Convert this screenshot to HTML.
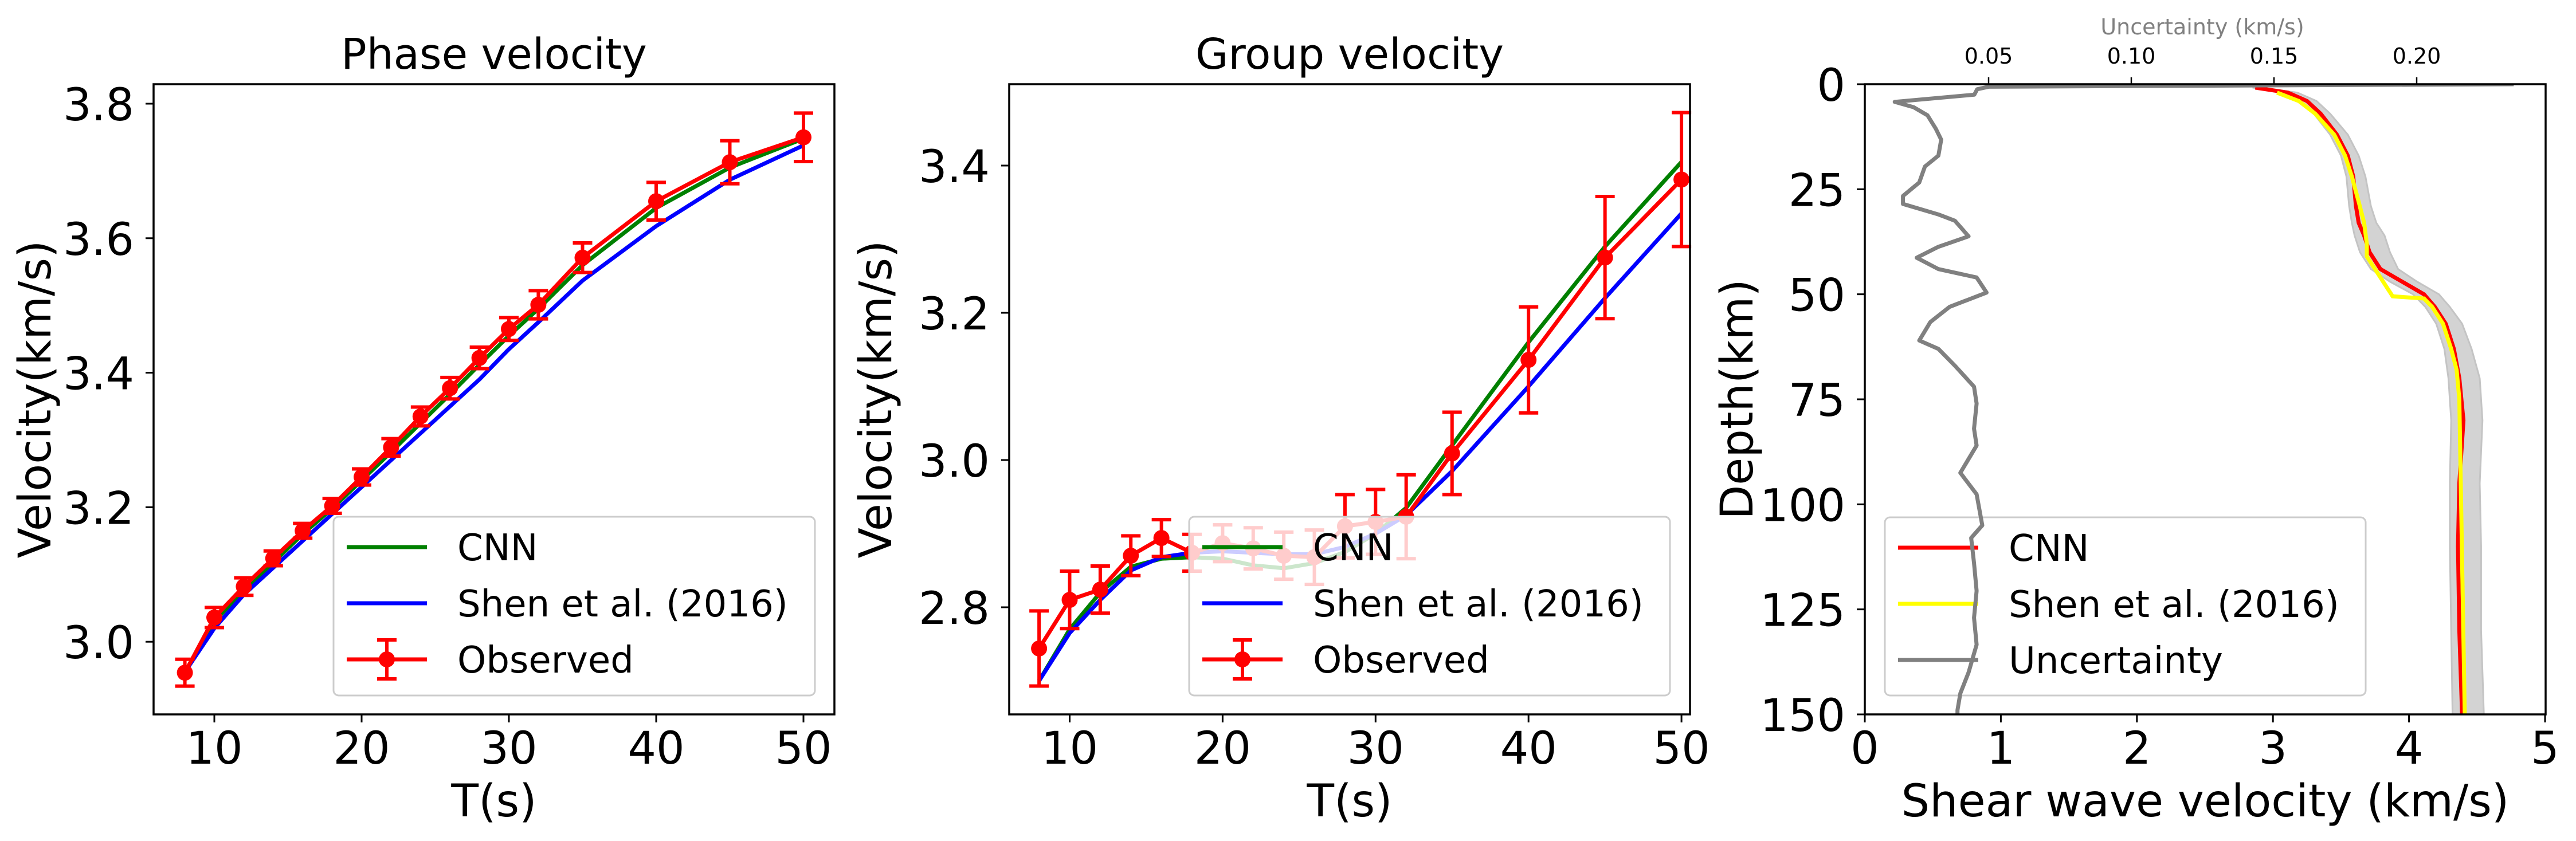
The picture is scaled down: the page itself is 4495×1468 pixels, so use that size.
<!DOCTYPE html>
<html><head><meta charset="utf-8">
<style>
html,body{margin:0;padding:0;background:#fff;}
svg{display:block;font-family:"DejaVu Sans","Liberation Sans",sans-serif;}
</style></head>
<body>
<svg id="fig" width="4495" height="1468" viewBox="0 0 4495 1468" xmlns="http://www.w3.org/2000/svg"></svg>
<script>
// ---------- data ----------
const periods = [8,10,12,14,16,18,20,22,24,26,28,30,32,35,40,45,50];
const phaseObs = [2.954,3.036,3.082,3.124,3.165,3.202,3.245,3.289,3.335,3.377,3.422,3.465,3.501,3.571,3.655,3.713,3.750];
const phaseErr = [0.020,0.015,0.013,0.011,0.011,0.011,0.012,0.013,0.014,0.016,0.016,0.017,0.021,0.022,0.028,0.032,0.036];
const phaseCnn = [2.955,3.030,3.077,3.118,3.160,3.198,3.240,3.282,3.325,3.368,3.412,3.455,3.495,3.560,3.645,3.705,3.748];
const phaseShen = [2.955,3.020,3.070,3.110,3.150,3.190,3.230,3.270,3.310,3.350,3.390,3.435,3.475,3.537,3.618,3.687,3.738];
const groupObs = [2.744,2.810,2.824,2.870,2.894,2.874,2.887,2.880,2.870,2.868,2.910,2.916,2.923,3.009,3.136,3.275,3.381];
const groupErr = [0.051,0.039,0.032,0.027,0.025,0.025,0.025,0.028,0.032,0.037,0.043,0.044,0.057,0.056,0.072,0.083,0.091];
const groupCnn = [2.700,2.770,2.820,2.855,2.866,2.868,2.866,2.857,2.853,2.860,2.875,2.900,2.935,3.020,3.160,3.290,3.405];
const groupShen = [2.700,2.765,2.810,2.850,2.868,2.874,2.876,2.874,2.872,2.872,2.882,2.900,2.925,2.985,3.100,3.220,3.335];

const cnnDepth = [0.8,2,4,7,12,17,22,29,33,36,40,44,47,50,53,57,63,70,80,95,110,130,150];
const cnnVs = [2.87,3.11,3.25,3.35,3.47,3.55,3.59,3.61,3.63,3.67,3.71,3.79,3.95,4.11,4.19,4.27,4.33,4.37,4.40,4.37,4.36,4.37,4.39];
const bandLo = [2.85,3.05,3.20,3.30,3.42,3.50,3.54,3.56,3.58,3.60,3.64,3.72,3.86,4.03,4.12,4.20,4.26,4.29,4.31,4.30,4.30,4.31,4.32];
const bandHi = [2.90,3.18,3.32,3.42,3.55,3.63,3.68,3.72,3.76,3.82,3.86,3.92,4.06,4.22,4.30,4.39,4.46,4.52,4.54,4.52,4.53,4.53,4.55];
const shenDepth = [2,4,7,12,17,22,28,33,38,41,44,48,50.5,51,53,57,63,68,75,150];
const shenVs = [3.03,3.19,3.31,3.45,3.53,3.58,3.63,3.67,3.69,3.69,3.75,3.83,3.88,4.11,4.17,4.25,4.31,4.35,4.37,4.41];
const uncDepth = [0,0.6,1.2,2.5,4.2,5.5,7.4,10.6,13.2,17,19.6,23.4,26.6,28.5,31,32.5,36.2,38.7,41.3,44,46,49.6,53,56.6,61,63,67,72,76,82,86,92.5,97.6,105,108,114,120.6,127,133.4,140,145,149,150];
const uncVal = [0.234,0.050,0.046,0.045,0.0171,0.0238,0.0286,0.0315,0.0334,0.0324,0.0277,0.0257,0.0200,0.0200,0.0324,0.0382,0.0430,0.0324,0.0248,0.0324,0.0458,0.0493,0.0363,0.0296,0.0257,0.0324,0.0382,0.0449,0.0458,0.0449,0.0458,0.0401,0.0458,0.0478,0.0439,0.0449,0.0458,0.0449,0.0458,0.0430,0.0401,0.0391,0.0391];

const p1XTicks = [10,20,30,40,50];
const p1YTicks = [3.0,3.2,3.4,3.6,3.8];
const p2XTicks = [10,20,30,40,50];
const p2YTicks = [2.8,3.0,3.2,3.4];
const p3XTicks = [0,1,2,3,4,5];
const p3YTicks = [0,25,50,75,100,125,150];
const p3TopTicks = [0.05,0.10,0.15,0.20];

// ---------- scales ----------
const TOP=147, BOT=1247;
const x1 = t => 374 + (t-10)*25.7;
const y1 = v => 181 + (3.8-v)*1174;
const x2 = t => 1866.5 + (t-10)*26.69;
const y2 = v => 289 + (3.4-v)*1285;
const x3 = v => 3254 + v*237.4;
const y3 = d => 147 + d*(1100/150);
const xu = u => 3470 + (u-0.05)*4980;

const svg = document.getElementById('fig');
const NS = 'http://www.w3.org/2000/svg';
function mk(tag, attrs, parent){
  const e = document.createElementNS(NS, tag);
  for (const k in attrs) e.setAttribute(k, attrs[k]);
  (parent||svg).appendChild(e);
  return e;
}
function pts(xs, ys, fx, fy){ return xs.map((x,i)=>fx(x).toFixed(1)+','+fy(ys[i]).toFixed(1)).join(' '); }

function clip(id, x, w){
  const d = mk('defs', {});
  const c = mk('clipPath', {id:id}, d);
  mk('rect', {x:x, y:TOP, width:w, height:BOT-TOP}, c);
}

function frame(name, x0, w){
  const r = mk('rect', {x:x0, y:TOP, width:w, height:BOT-TOP, fill:'none', stroke:'#000', 'stroke-width':3.5});
  
  
}
function text(str, x, y, size, anchor, fill){
  const t = mk('text', {x:x, y:y, 'font-size':size, 'text-anchor':anchor||'middle', fill:fill||'#000'});
  t.textContent = str;
  return t;
}
function xTicks(ticks, fx, fmt, name){
  ticks.forEach(v=>{
    const X = fx(v);
    const l = mk('line', {x1:X, y1:BOT, x2:X, y2:BOT+14, stroke:'#000', 'stroke-width':3});
    
    
    const t = text(fmt(v), X, 1333, 78);
    
    
  });
}
function yTicks(ticks, fy, x0, fmt, name){
  ticks.forEach(v=>{
    const Y = fy(v);
    const l = mk('line', {x1:x0-14, y1:Y, x2:x0, y2:Y, stroke:'#000', 'stroke-width':3});
    
    
    const t = text(fmt(v), x0-34, Y+29, 78, 'end');
    
    
  });
}
function line(xs, ys, fx, fy, color, name, cl){
  const p = mk('polyline', {points:pts(xs,ys,fx,fy), fill:'none', stroke:color, 'stroke-width':7, 'stroke-linejoin':'round', 'clip-path':'url(#'+cl+')'});
  
  
}
function observed(xs, ys, es, fx, fy, name){
  const g = mk('g', {});
  
  
  xs.forEach((t,i)=>{
    const X = fx(t), a = fy(ys[i]+es[i]), b = fy(ys[i]-es[i]);
    const e = mk('path', {d:`M${X},${a}V${b}M${X-17},${a}H${X+17}M${X-17},${b}H${X+17}`, stroke:'#f00', 'stroke-width':6, fill:'none'}, g);
    
    
  });
  const p = mk('polyline', {points:pts(xs,ys,fx,fy), fill:'none', stroke:'#f00', 'stroke-width':7, 'stroke-linejoin':'round'}, g);
  
  
  xs.forEach((t,i)=>{
    const c = mk('circle', {cx:fx(t), cy:fy(ys[i]), r:14, fill:'#f00'}, g);
    
    
  });
}
function legend(x0, y0, w, h, items, name){
  const g = mk('g', {});
  
  
  const r = mk('rect', {x:x0, y:y0, width:w, height:h, rx:9, fill:'#fff', 'fill-opacity':0.8, stroke:'#ccc', 'stroke-width':3}, g);
  
  
  items.forEach((it,i)=>{
    const Y = y0+53+i*98;
    const l = mk('line', {x1:x0+23, y1:Y, x2:x0+163, y2:Y, stroke:it.c, 'stroke-width':7}, g);
    
    
    if (it.err){
      const X = x0+93;
      const e = mk('path', {d:`M${X},${Y-34}V${Y+34}M${X-17},${Y-34}H${X+17}M${X-17},${Y+34}H${X+17}`, stroke:'#f00','stroke-width':6,fill:'none'}, g);
      
      
      const c = mk('circle', {cx:X, cy:Y, r:14, fill:'#f00'}, g);
      
      
    }
    const t = mk('text', {x:x0+216, y:Y+23, 'font-size':64}, g);
    t.textContent = it.t;
    
    
  });
}

// ---------- panel 1 ----------
clip('c1', 268, 1188);
line(periods, phaseCnn, x1, y1, '#008000', 'phase-cnn-line', 'c1');
line(periods, phaseShen, x1, y1, '#0000ff', 'phase-shen-line', 'c1');
observed(periods, phaseObs, phaseErr, x1, y1, 'phase-observed-series');
legend(582, 902, 840, 312, [{t:'CNN',c:'#008000'},{t:'Shen et al. (2016)',c:'#0000ff'},{t:'Observed',c:'#f00',err:true}], 'phase-legend');
frame('phase-axes-frame', 268, 1188);
xTicks(p1XTicks, x1, v=>String(v), 'phase-x');
yTicks(p1YTicks, y1, 268, v=>v.toFixed(1), 'phase-y');
let t;
t = text('Phase velocity', 862, 120, 74);  
t = text('T(s)', 862, 1425, 78);  
t = text('Velocity(km/s)', 0, 0, 78); t.setAttribute('transform','translate(88,697) rotate(-90)');  

// ---------- panel 2 ----------
clip('c2', 1761, 1188);
line(periods, groupCnn, x2, y2, '#008000', 'group-cnn-line', 'c2');
line(periods, groupShen, x2, y2, '#0000ff', 'group-shen-line', 'c2');
observed(periods, groupObs, groupErr, x2, y2, 'group-observed-series');
legend(2075, 902, 839, 312, [{t:'CNN',c:'#008000'},{t:'Shen et al. (2016)',c:'#0000ff'},{t:'Observed',c:'#f00',err:true}], 'group-legend');
frame('group-axes-frame', 1761, 1188);
xTicks(p2XTicks, x2, v=>String(v), 'group-x');
yTicks(p2YTicks, y2, 1761, v=>v.toFixed(1), 'group-y');
t = text('Group velocity', 2355, 120, 74);  
t = text('T(s)', 2355, 1425, 78);  
t = text('Velocity(km/s)', 0, 0, 78); t.setAttribute('transform','translate(1555,697) rotate(-90)');  

// ---------- panel 3 ----------
clip('c3', 3254, 1188);
const bandPts = cnnDepth.map((d,i)=>x3(bandLo[i]).toFixed(1)+','+y3(d).toFixed(1))
  .concat(cnnDepth.slice().reverse().map((d,j)=>{const i=cnnDepth.length-1-j; return x3(bandHi[i]).toFixed(1)+','+y3(d).toFixed(1);})).join(' ');
const band = mk('polygon', {points:bandPts, fill:'#d3d3d3', stroke:'#c4c4c4', 'stroke-width':3, 'clip-path':'url(#c3)'});


const cnnP = mk('polyline', {points:cnnVs.map((v,i)=>x3(v).toFixed(1)+','+y3(cnnDepth[i]).toFixed(1)).join(' '), fill:'none', stroke:'#ff0000', 'stroke-width':7, 'stroke-linejoin':'round', 'clip-path':'url(#c3)'});


const shenP = mk('polyline', {points:shenVs.map((v,i)=>x3(v).toFixed(1)+','+y3(shenDepth[i]).toFixed(1)).join(' '), fill:'none', stroke:'#ffff00', 'stroke-width':7, 'clip-path':'url(#c3)'});


legend(3289, 903, 839, 311, [{t:'CNN',c:'#ff0000'},{t:'Shen et al. (2016)',c:'#ffff00'},{t:'Uncertainty',c:'#808080'}], 'vs-legend');
const unc = mk('polyline', {points:uncVal.map((u,i)=>xu(u).toFixed(1)+','+y3(uncDepth[i]).toFixed(1)).join(' '), fill:'none', stroke:'#808080', 'stroke-width':7, 'stroke-linejoin':'round', 'clip-path':'url(#c3)'});


frame('vs-axes-frame', 3254, 1188);
xTicks(p3XTicks, x3, v=>String(v), 'vs-x');
yTicks(p3YTicks, y3, 3254, v=>String(v), 'depth-y');
p3TopTicks.forEach(u=>{
  const X = xu(u);
  const l = mk('line', {x1:X, y1:TOP-12, x2:X, y2:TOP, stroke:'#000', 'stroke-width':2.5});
  
  
  const tt = text(u.toFixed(2), X, 111, 38);
  
  
});
t = text('Uncertainty (km/s)', 3843, 60, 38, 'middle', '#808080');  
t = text('Shear wave velocity (km/s)', 3848, 1425, 78);  
t = text('Depth(km)', 0, 0, 78); t.setAttribute('transform','translate(3058,697) rotate(-90)');  
</script>
</body></html>
